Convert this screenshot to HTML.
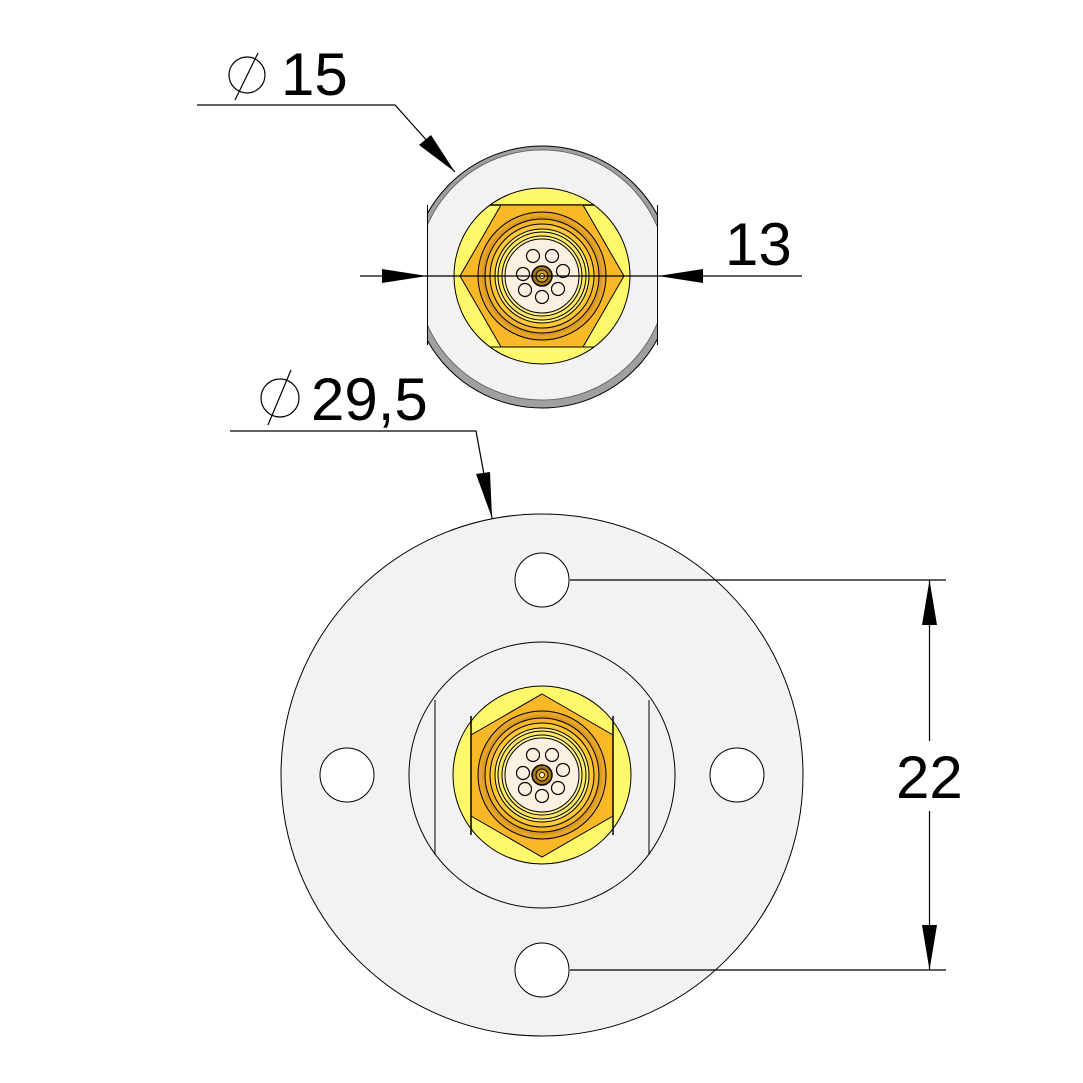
<!DOCTYPE html>
<html><head><meta charset="utf-8"><style>
html,body{margin:0;padding:0;background:#fff}
svg{display:block}
text{font-family:"Liberation Sans",sans-serif;fill:#000}
</style></head><body>
<svg width="1083" height="1083" viewBox="0 0 1083 1083" xmlns="http://www.w3.org/2000/svg">
<defs>
<clipPath id="flat"><rect x="427" y="0" width="230" height="500"/></clipPath>
<g id="conn">
  <circle r="37" fill="#fdf0e0" stroke="#000"/>
  <g fill="none" stroke="#000" stroke-width="1.2">
    <circle cx="-9" cy="-20" r="6.5"/><circle cx="10" cy="-20" r="6.5"/>
    <circle cx="21" cy="-5" r="6.5"/><circle cx="-19" cy="-2" r="6.5"/>
    <circle cx="-17" cy="14" r="6.5"/><circle cx="16" cy="13" r="6.5"/>
    <circle cx="0" cy="21" r="6.5"/>
  </g>
  <circle r="10" fill="#a87810" stroke="#000" stroke-width="1.5"/>
  <circle r="6" fill="#d4a020" stroke="#000"/>
  <circle r="2.5" fill="#fff6c0" stroke="#000" stroke-width="0.8"/>
</g>
<g id="rings">
  <circle r="64" fill="#e8a628" stroke="#000"/>
  <circle r="60" fill="#d99a22" stroke="none"/>
  <circle r="57" fill="#f5b42a" stroke="#000"/>
  <circle r="52" fill="#ffc838" stroke="#000"/>
  <circle r="47" fill="#fff07a" stroke="#000"/>
  <circle r="44" fill="#ffe566" stroke="#000"/>
  <circle r="40" fill="#fff58e" stroke="#000"/>
</g>
</defs>

<!-- TOP VIEW -->
<g clip-path="url(#flat)">
  <circle cx="542" cy="277" r="131" fill="#a0a0a0" stroke="#000"/>
  <circle cx="542" cy="275" r="125" fill="#f2f2f2" stroke="#555" stroke-width="0.8"/>
</g>
<line x1="427.5" y1="205" x2="427.5" y2="345" stroke="#000"/>
<line x1="657.5" y1="205" x2="657.5" y2="345" stroke="#000"/>
<circle cx="542" cy="276" r="88" fill="#fff86a" stroke="#000"/>
<line x1="490" y1="205" x2="594" y2="205" stroke="#000" stroke-width="1.5"/>
<line x1="490" y1="347" x2="594" y2="347" stroke="#000" stroke-width="1"/>
<polygon points="460,276 501,205 583,205 624,276 583,347 501,347" fill="#f8b828" stroke="#000"/>
<g transform="translate(542,276)"><use href="#rings"/><use href="#conn"/></g>

<!-- BOTTOM VIEW -->
<circle cx="542" cy="775" r="261" fill="#f2f2f2" stroke="#000"/>
<circle cx="542" cy="775" r="133" fill="#f2f2f2" stroke="#000"/>
<line x1="435" y1="700" x2="435" y2="855" stroke="#000"/>
<line x1="649" y1="700" x2="649" y2="855" stroke="#000"/>
<g fill="#fff" stroke="#000">
  <circle cx="542" cy="580" r="27"/><circle cx="542" cy="970" r="27"/>
  <circle cx="347" cy="775" r="27"/><circle cx="737" cy="775" r="27"/>
</g>
<circle cx="542" cy="775" r="89" fill="#fff86a" stroke="#000"/>
<polygon points="542,694 613,735 613,816 542,857 471,816 471,735" fill="#f8b828" stroke="#000"/>
<line x1="471" y1="716" x2="471" y2="835" stroke="#000" stroke-width="1.5"/>
<line x1="613" y1="716" x2="613" y2="835" stroke="#000" stroke-width="1.5"/>
<g transform="translate(542,775)"><use href="#rings"/><use href="#conn"/></g>

<!-- DIMENSIONS -->
<g stroke="#000" stroke-width="1.2" fill="none">
  <!-- Ø15 -->
  <circle cx="247" cy="75" r="18"/><line x1="258" y1="53" x2="235" y2="100"/>
  <polyline points="197,105 395,105 455,172"/>
  <!-- Ø29,5 -->
  <circle cx="280" cy="398" r="19"/><line x1="291" y1="370" x2="268" y2="425"/>
  <polyline points="230,431 476,431 492,518"/>
  <!-- 13 -->
  <line x1="360" y1="276" x2="802" y2="276"/>
  <!-- 22 -->
  <line x1="570" y1="580" x2="946" y2="580"/>
  <line x1="570" y1="970" x2="946" y2="970"/>
  <line x1="929.5" y1="580" x2="929.5" y2="741"/>
  <line x1="929.5" y1="811" x2="929.5" y2="970"/>
</g>
<g fill="#000">
  <polygon points="455,172 419,145 431,135"/>
  <polygon points="492,518 476,474 490,472"/>
  <polygon points="427,276 382,269 382,283"/>
  <polygon points="658,276 703,269 703,283"/>
  <polygon points="929.5,580 922,625 937,625"/>
  <polygon points="929.5,970 922,925 937,925"/>
</g>
<text x="281" y="95" font-size="60">15</text>
<text x="311" y="420" font-size="60">29,5</text>
<text x="725" y="265" font-size="60">13</text>
<text x="896" y="798" font-size="60">22</text>
</svg>
</body></html>
